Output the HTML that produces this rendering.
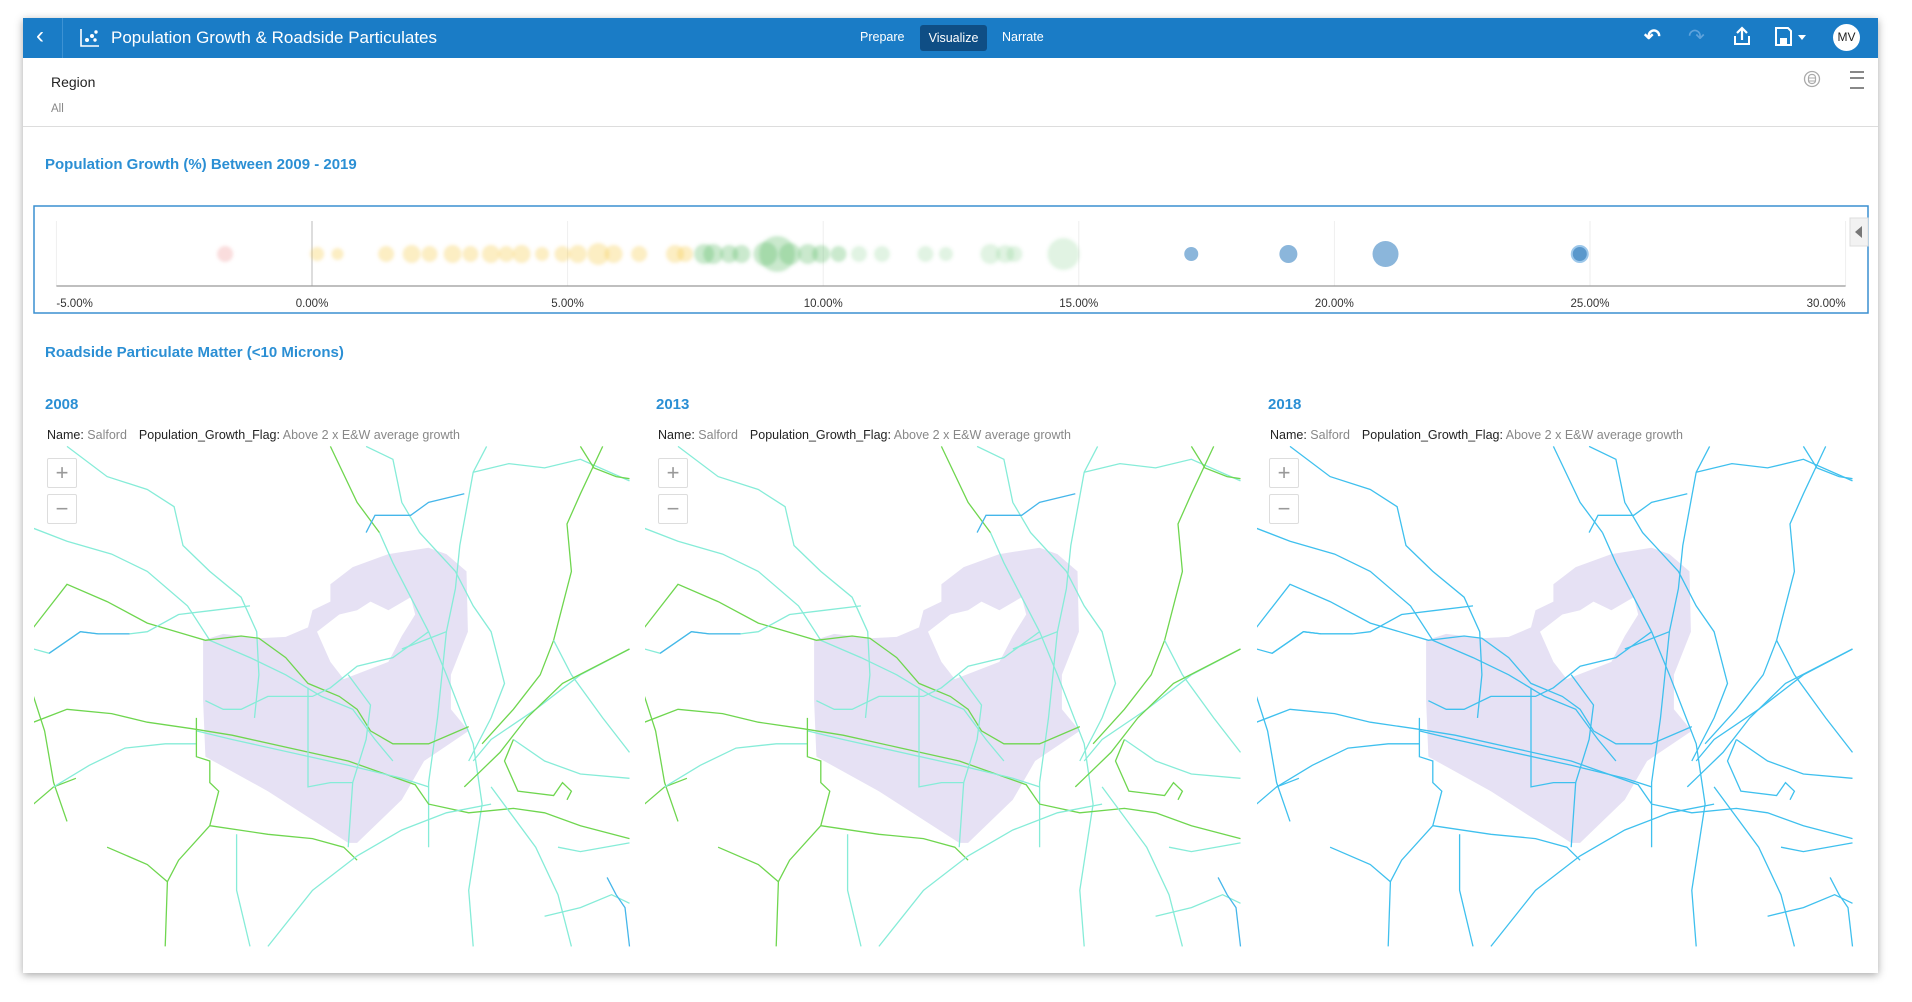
<!DOCTYPE html>
<html><head><meta charset="utf-8">
<style>
body{margin:0;width:1912px;height:1002px;background:#fff;font-family:"Liberation Sans",sans-serif;overflow:hidden;position:relative}
.card{position:absolute;left:23px;top:18px;width:1855px;height:955px;background:#fff;box-shadow:0 2px 8px rgba(0,0,0,.35)}
.hdr{position:absolute;left:23px;top:18px;width:1855px;height:40px;background:#1a7cc6}
.abs{position:absolute;white-space:nowrap}
.w{color:#fff}
.zb{position:absolute;width:28px;height:28px;border:1px solid #ddd;background:#fff;color:#999;font-size:22px;line-height:27px;text-align:center;border-radius:2px}
</style></head><body>
<div class="card"></div>
<div class="hdr"></div>
<div class="abs w" style="left:36px;top:22px;font-size:24px">&#8249;</div>
<div class="abs" style="left:62px;top:18px;width:1px;height:40px;background:#3d92d3"></div>
<svg class="abs" style="left:80px;top:28px" width="20" height="20"><path d="M1 1V18H19" stroke="#fff" stroke-width="1.6" fill="none"/><circle cx="7" cy="12" r="2" fill="#fff"/><circle cx="12" cy="8" r="2" fill="#fff"/><circle cx="16" cy="4" r="1.7" fill="#fff"/><circle cx="15" cy="12" r="1.7" fill="#fff"/></svg>
<div class="abs w" style="left:111px;top:28px;font-size:17px">Population Growth &amp; Roadside Particulates</div>
<div class="abs w" style="left:860px;top:30px;font-size:12.5px">Prepare</div>
<div class="abs w" style="left:920px;top:25px;width:67px;height:26px;background:#0f4e85;border-radius:3px;font-size:12.5px;line-height:26px;text-align:center">Visualize</div>
<div class="abs w" style="left:1002px;top:30px;font-size:12.5px">Narrate</div>
<div class="abs w" style="left:1644px;top:24px;font-size:20px;font-weight:bold">&#8630;</div>
<div class="abs" style="left:1688px;top:24px;font-size:20px;color:#5fa3dc">&#8631;</div>
<svg class="abs" style="left:1733px;top:26px" width="18" height="20"><path d="M9 14V2M4 7L9 2L14 7" stroke="#fff" stroke-width="2.2" fill="none"/><path d="M2 10V18H16V10" stroke="#fff" stroke-width="2" fill="none"/></svg>
<svg class="abs" style="left:1775px;top:27px" width="36" height="20"><path d="M1 1H13L16 4V18H1Z" stroke="#fff" stroke-width="2" fill="none"/><rect x="5" y="11" width="7" height="6" fill="#fff"/><path d="M23 8H31L27 13Z" fill="#fff"/></svg>
<div class="abs" style="left:1833px;top:24px;width:27px;height:27px;border-radius:50%;background:#fff;color:#222;font-size:12px;line-height:27px;text-align:center">MV</div>
<div class="abs" style="left:51px;top:74px;font-size:14px;color:#222">Region</div>
<div class="abs" style="left:51px;top:103px;font-size:11.5px;color:#888">All</div>
<svg class="abs" style="left:1803px;top:70px" width="18" height="20"><circle cx="9" cy="9" r="7.5" fill="none" stroke="#aaa" stroke-width="1.3"/><rect x="5.5" y="4.5" width="7" height="9" rx="3" fill="none" stroke="#aaa" stroke-width="1.2"/><path d="M5.5 8H12.5M5.5 11H12.5" stroke="#aaa"/></svg>
<div class="abs" style="left:1850px;top:71px;width:14px;height:14px;border-top:2px solid #888;border-bottom:2px solid #888"><div style="margin-top:4px;height:2px;background:#888"></div></div>
<div class="abs" style="left:23px;top:126px;width:1855px;height:1px;background:#ddd"></div>
<div class="abs" style="left:45px;top:156px;color:#2b8fd4;font-weight:bold;font-size:15px">Population Growth (%) Between 2009 - 2019</div>

<svg class="abs" style="left:0;top:0" width="1912" height="1002" id="main">
<defs><filter id="bl" x="-50%" y="-50%" width="200%" height="200%"><feGaussianBlur stdDeviation="1.6"/></filter></defs>
<rect x="34" y="206" width="1834" height="107" fill="none" stroke="#3a8fd0" stroke-width="1.5"/>
<rect x="1850" y="218" width="18" height="28" fill="#f2f2f2" stroke="#ddd"/>
<path d="M1862 226V238L1855 232Z" fill="#777"/>
<g id="scatter"></g>
<text x="45" y="357" font-size="15" font-weight="bold" fill="#2b8fd4" font-family="Liberation Sans">Roadside Particulate Matter (&lt;10 Microns)</text>
<g id="maps"></g>
</svg>

<script>
const tickLabels=["-5.00%","0.00%","5.00%","10.00%","15.00%","20.00%","25.00%","30.00%"];
const tickValues=[-5,0,5,10,15,20,25,30];
const growth=[-1.7,0.1,0.5,1.45,1.95,2.3,2.75,3.1,3.5,3.8,4.1,4.5,4.9,5.2,5.6,5.9,6.4,7.1,7.3,7.67,7.85,8.16,8.4,8.87,9.1,9.35,9.7,9.96,10.3,10.7,11.15,12.0,12.4,13.27,13.56,13.74,14.7,17.2,19.1,21.0,24.8];
const bubbleSize=[8,7,6,8,9,8,9,8,9,8,9,7,8,9,11,9,8,9,8,10,10,9,9,12,18,11,10,9,8,8,8,8,7,10,9,8,16,7,9,13,8];
const maps=["2008","2013","2018"];
const S="http://www.w3.org/2000/svg";
const xs=v=>312+(v)*51.12;
const sc=document.getElementById('scatter');
function mk(t,a,p){const e=document.createElementNS(S,t);for(const k in a)e.setAttribute(k,a[k]);p.appendChild(e);return e;}
tickValues.forEach((v,i)=>{
  const g=mk('line',{x1:xs(v),x2:xs(v),y1:221,y2:286,stroke:v===0?'#bbb':'#eee'},sc);
  
  
  const t=mk('text',{x:xs(v),y:307,'font-size':11.5,fill:'#333','text-anchor':i===0?'start':(i===tickValues.length-1?'end':'middle'),'font-family':'Liberation Sans'},sc);
  t.textContent=tickLabels[i];
  
  
});
const ax=mk('line',{x1:xs(-5),x2:xs(30),y1:286,y2:286,stroke:'#999','stroke-width':1.3},sc);


growth.forEach((v,i)=>{
  let col,op,blur=true;
  if(v<0){col='#f08f8f';op=0.3}else if(v<7.5){col='#f7c948';op=0.32}else if(v<15){col='#4cb65a';op=v<10.5?0.3:0.17}else{col='#3d86c3';op=0.6;blur=false}
  const c=mk('circle',{cx:xs(v),cy:254,r:bubbleSize[i],fill:col,'fill-opacity':op},sc);
  if(blur)c.setAttribute('filter','url(#bl)');
  if(v>24){c.setAttribute('stroke','#9cc7ea');c.setAttribute('stroke-width',2);c.setAttribute('fill-opacity',0.85);}
  
  
});
const blob=[455,720,500,705,580,715,640,712,690,690,700,650,740,630,740,590,790,550,870,520,960,505,1000,520,1045,560,1048,700,1010,800,1010,880,1050,930,950,1000,900,1090,800,1190,780,1190,600,1070,460,990,455,860];
const hole=[710,700,760,660,800,650,830,630,870,650,920,620,930,660,900,710,870,770,820,790,770,810,740,770];
const roads=[
['c',[150,270,240,340,330,370,390,410,410,500,470,560,540,620,575,700,580,800,570,900]],
['g',[740,270,800,400,850,470]],
['c',[850,470,880,540,960,700,1000,800,1060,960,1080,1100,1050,1300,1060,1430]],
['c',[820,270,880,300,900,400,940,470,1020,560,1060,640,1100,700,1130,820,1100,900,1050,1000]],
['c',[1090,270,1060,330,1030,500,1020,600,1000,700,980,900,960,1050,960,1200]],
['c',[1060,330,1140,310,1220,320,1300,300,1410,350]],
['g',[1300,270,1330,320,1380,340,1410,345]],
['g',[1350,270,1300,380,1270,450,1280,560,1240,720,1210,800,1150,880,1080,960]],
['c',[1240,720,1280,800,1350,900,1410,980]],
['c',[1410,740,1300,800,1200,880,1100,950,1060,1000]],
['g',[1410,740,1260,820,1180,900,1120,980,1060,1040,1040,1060]],
['c',[75,460,150,490,250,520,330,560,420,640,470,720,560,760,640,800,720,850,790,880,840,950,880,1000]],
['g',[75,690,150,590,240,630,330,680,460,720,540,710,580,715,640,760,690,820,760,850,800,880,830,930,880,960,960,960,1050,920]],
['c',[75,740,110,750,180,700,220,705,290,705,330,700,400,660,480,650,560,640]],
['b',[110,750,180,700,220,705,290,705]],
['g',[75,910,150,880,250,890,330,910,430,925,520,940,650,970,780,1000,930,1055,960,1100,1050,1120,1150,1110,1220,1120,1300,1150,1410,1180]],
['c',[440,930,520,950,780,1010,900,1040,960,1060]],
['g',[75,850,100,930,120,1050,150,1140]],
['g',[75,1100,120,1060,170,1040]],
['c',[120,1060,200,1010,280,970,370,960,440,960]],
['g',[440,900,440,990,470,1000,470,1050,490,1070,470,1150,400,1230,375,1280,370,1430]],
['g',[240,1200,330,1240,375,1280]],
['g',[470,1150,600,1170,700,1180,770,1200,800,1230]],
['c',[530,1170,530,1300,560,1430]],
['c',[600,1430,700,1300,800,1220,900,1160,1000,1120,1100,1100]],
['c',[1410,1040,1300,1030,1220,1000,1150,950]],
['g',[1150,950,1130,1000,1160,1070,1240,1080,1260,1050,1280,1070,1270,1090]],
['c',[1100,1060,1200,1200,1250,1310,1280,1430]],
['c',[1410,1190,1300,1210,1250,1200]],
['c',[1220,1360,1300,1340,1370,1310,1410,1330]],
['b',[1360,1270,1380,1310,1400,1340,1410,1430]],
['c',[690,830,690,1060,740,1050,790,1050,780,1200]],
['c',[780,800,830,870,820,950,790,1050]],
['c',[960,700,880,760,800,780,740,830,700,850,600,850,540,880,500,880,460,860]],
['c',[1000,700,900,740]],
['b',[820,470,840,430,920,430,960,400,1040,380]]
];
const offs=[0,611,1223];
const mg=document.getElementById('maps');
const defs=mk('defs',{},mg);
function pts(a,dx){let s='';for(let i=0;i<a.length;i+=2)s+=(i?'L':'M')+(a[i]/2.24+dx).toFixed(1)+' '+(330+a[i+1]/2.32).toFixed(1);return s;}
maps.forEach((yr,k)=>{
  const dx=offs[k];
  const w=k===2?620:597;
  const cp=mk('clipPath',{id:'cp'+k},defs);
  mk('rect',{x:34+dx,y:446,width:w,height:502},cp);
  const t=mk('text',{x:45+dx,y:409,'font-size':15,'font-weight':'bold',fill:'#2b8fd4','font-family':'Liberation Sans'},mg);
  t.textContent=yr;
  
  
  const nt=mk('text',{x:47+dx,y:439,'font-size':12.5,fill:'#222','font-family':'Liberation Sans'},mg);
  nt.innerHTML='Name: <tspan fill="#888">Salford</tspan><tspan dx="12">Population_Growth_Flag: </tspan><tspan fill="#888">Above 2 x E&amp;W average growth</tspan>';
  
  
  const g=mk('g',{'clip-path':'url(#cp'+k+')'},mg);
  
  
  const b=mk('path',{d:pts(blob,dx)+'Z'+pts(hole,dx)+'Z',fill:'#e6e1f4','fill-rule':'evenodd'},g);
  
  
  roads.forEach(r=>{
    let col=r[0]==='g'?'#6fd64f':(r[0]==='b'?'#45b6ea':'#86ecd8');
    if(k===2)col='#3fc0ee';
    const p=mk('path',{d:pts(r[1],dx),fill:'none',stroke:col,'stroke-width':1.3},g);
    
    
  });
});
</script>
<div class="zb" style="left:47px;top:458px">+</div>
<div class="zb" style="left:47px;top:494px">&#8722;</div>
<div class="zb" style="left:658px;top:458px">+</div>
<div class="zb" style="left:658px;top:494px">&#8722;</div>
<div class="zb" style="left:1269px;top:458px">+</div>
<div class="zb" style="left:1269px;top:494px">&#8722;</div>
</body></html>
